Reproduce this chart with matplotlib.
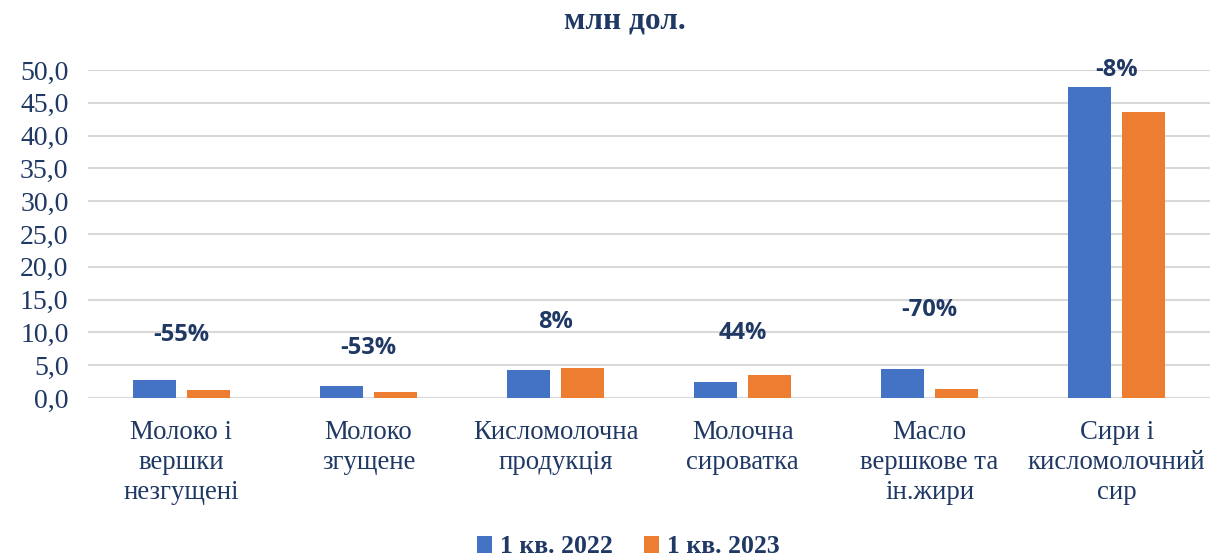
import matplotlib
matplotlib.use("Agg")
import matplotlib.pyplot as plt
import numpy as np

categories = ["Молоко і\nвершки\nнезгущені", "Молоко\nзгущене", "Кисломолочна\nпродукція",
              "Молочна\nсироватка", "Масло\nвершкове та\nін.жири", "Сири і\nкисломолочний\nсир"]
q1_2022 = [2.7, 1.9, 4.3, 2.4, 4.4, 47.4]
q1_2023 = [1.2, 0.9, 4.6, 3.5, 1.3, 43.6]
changes = ["-55%", "-53%", "8%", "44%", "-70%", "-8%"]
label_y = [9.6, 7.6, 11.6, 9.9, 13.4, 50.0]

navy = "#1F3864"
blue = "#4472C4"
orange = "#ED7D31"
serif = "Liberation Serif"

fig = plt.figure(figsize=(12.15, 5.57), dpi=100)
ax = fig.add_axes([0.0724, 0.2855, 0.9236, 0.5888])

x = np.arange(len(categories))
w = 0.229
gap = 0.058
ax.bar(x - (w + gap) / 2, q1_2022, w, color=blue, label="1 кв. 2022", zorder=3)
ax.bar(x + (w + gap) / 2, q1_2023, w, color=orange, label="1 кв. 2023", zorder=3)

# percentage change labels
for xi, txt, yi in zip(x, changes, label_y):
    ax.text(xi, yi, txt, ha="center", va="center", fontsize=17, fontweight="bold",
            color=navy, family="Open Sans", clip_on=False, zorder=4)

ax.set_xlim(-0.5, len(categories) - 0.5)
ax.set_ylim(0, 50)
ax.set_yticks(np.arange(0, 51, 5))
ax.set_yticklabels([f"{v:.1f}".replace(".", ",") for v in np.arange(0, 51, 5)],
                   family=serif, fontsize=20, color=navy)
ax.set_xticks(x)
ax.set_xticklabels(categories, family=serif, fontsize=19.3, color=navy, linespacing=1.25, va="top")
ax.tick_params(axis="both", length=0)
ax.tick_params(axis="x", pad=16)
ax.tick_params(axis="y", pad=14)
ax.grid(axis="y", color="#D9D9D9", linewidth=1.5, zorder=0)
for s in ax.spines.values():
    s.set_visible(False)
ax.axhline(0, color="#D9D9D9", linewidth=1.5, zorder=2)

fig.text(0.514, 0.962, "млн дол.", ha="center", va="center", family=serif,
         fontsize=22.5, fontweight="bold", color=navy)

fig.legend(loc="center", bbox_to_anchor=(0.517, 0.018), ncol=2, frameon=False,
           prop={"family": serif, "size": 18.5, "weight": "bold"}, labelcolor=navy,
           handlelength=0.6, handleheight=0.6, handletextpad=0.3, columnspacing=1.2)

fig.savefig("out.png", dpi=100, facecolor="white")
